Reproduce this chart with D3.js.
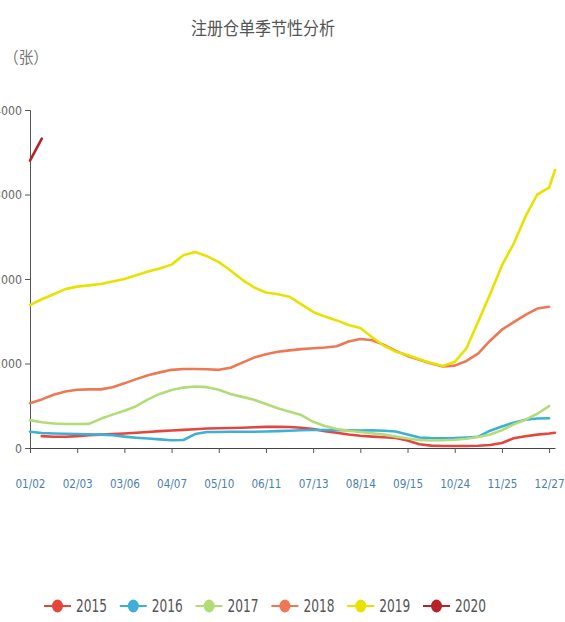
<!DOCTYPE html>
<html>
<head>
<meta charset="utf-8">
<script src="https://cdn.jsdelivr.net/npm/d3@7/dist/d3.min.js"></script>
<style>
  html, body { margin: 0; padding: 0; background: #ffffff; }
  svg { display: block; }
  .num { font-family: "Liberation Sans Narrow", "DejaVu Sans Condensed", "Liberation Sans", sans-serif; }
  .cjk { font-family: "Noto Sans CJK SC", "Noto Sans", sans-serif; }
</style>
</head>
<body>
<svg id="chart" width="565" height="622"></svg>
<script>
// Category labels shown under the x axis (one every ~22 trading days)
const tickLabels = ["01/02", "02/03", "03/06", "04/07", "05/10", "06/11",
                    "07/13", "08/14", "09/15", "10/24", "11/25", "12/27"];
// Sample positions along the axis, in label-interval units (quarter steps, last one just past 12/27)
const samplePos = [...d3.range(0, 11.001, 0.25), 11.125];
const years = ["2015", "2016", "2017", "2018", "2019", "2020"];
const yTicks = [0, 1000, 2000, 3000, 4000];

// Registered warehouse receipts (张) per year, sampled at samplePos
const s2015 = [null, 140, 134, 134, 140, 150, 158, 166, 172, 180, 190, 200,
               208, 215, 222, 230, 233, 236, 240, 245, 250, 252, 248, 240,
               225, 200, 180, 160, 145, 135, 128, 120, 90, 45, 28, 24,
               24, 24, 26, 35, 60, 115, 140, 158, 172, 181];
const s2016 = [193, 178, 172, 168, 165, 162, 158, 150, 135, 122, 112, 102,
               92, 95, 165, 190, 190, 192, 192, 193, 195, 200, 205, 210,
               213, 213, 212, 210, 206, 210, 205, 195, 160, 125, 118, 115,
               118, 125, 134, 205, 255, 300, 335, 350, 352, null];
const s2017 = [330, 305, 290, 284, 284, 285, 345, 395, 440, 495, 575, 640,
               686, 715, 728, 720, 690, 640, 605, 570, 520, 470, 430, 390,
               310, 260, 225, 205, 190, 175, 158, 135, 112, 95, 88, 92,
               98, 110, 130, 160, 210, 280, 335, 405, 495, null];
const s2018 = [530, 575, 630, 668, 690, 694, 694, 720, 765, 815, 860, 895,
               925, 935, 935, 932, 925, 950, 1010, 1070, 1110, 1140, 1155, 1170,
               1180, 1190, 1205, 1260, 1290, 1275, 1220, 1150, 1090, 1045, 1000, 965,
               975, 1030, 1120, 1270, 1400, 1490, 1575, 1650, 1672, null];
const s2019 = [1690, 1760, 1820, 1880, 1910, 1925, 1940, 1970, 2000, 2045, 2090, 2125,
               2170, 2280, 2320, 2270, 2200, 2100, 1990, 1900, 1840, 1820, 1790, 1700,
               1610, 1555, 1510, 1455, 1420, 1310, 1210, 1140, 1100, 1050, 1005, 970,
               1020, 1180, 1500, 1820, 2160, 2420, 2740, 3000, 3080, 3290];
const s2020 = [3400, 3660];

const seriesValues = [s2015, s2016, s2017, s2018, s2019, s2020];
const colors = ["#e2463e", "#3db0d8", "#b2dc78", "#ee7754", "#e8e200", "#b8232a"];

const svg = d3.select("#chart");
const x = d3.scaleLinear().domain([0, 11.125]).range([30, 555]);
const y = d3.scaleLinear().domain([0, 4000]).range([448, 110]);

// Title and unit
svg.append("text").attr("class", "cjk")
  .attr("x", 263).attr("y", 35).attr("text-anchor", "middle")
  .attr("font-size", 18).attr("fill", "#555")
  .attr("textLength", 144).attr("lengthAdjust", "spacingAndGlyphs")
  .text("注册仓单季节性分析");
svg.append("text").attr("class", "cjk")
  .attr("x", 4).attr("y", 63)
  .attr("font-size", 16).attr("fill", "#777")
  .attr("textLength", 44).attr("lengthAdjust", "spacingAndGlyphs")
  .text("（张）");

// Y axis
const yAxis = svg.append("g").attr("transform", "translate(30,0)")
  .call(d3.axisLeft(y).tickValues(yTicks).tickSize(5).tickPadding(3).tickFormat(d3.format("d")));
yAxis.select(".domain").attr("stroke", "#555");
yAxis.selectAll(".tick line").attr("stroke", "#555");
yAxis.selectAll(".tick text").attr("class", "num")
  .attr("font-size", 13).attr("fill", "#666")
  .each(function(d) {
    const n = String(d).length;
    d3.select(this).attr("textLength", n * 7).attr("lengthAdjust", "spacingAndGlyphs");
  });

// X axis
const xAxis = svg.append("g").attr("transform", "translate(0,448)")
  .call(d3.axisBottom(x).tickValues(d3.range(tickLabels.length))
    .tickFormat(i => tickLabels[i]).tickSize(5).tickPadding(26).tickSizeOuter(0));
xAxis.select(".domain").attr("stroke", "#444");
xAxis.selectAll(".tick line").attr("stroke", "#555");
xAxis.selectAll(".tick text").attr("class", "num")
  .attr("font-size", 13).attr("fill", "#4a7fae")
  .attr("textLength", 30).attr("lengthAdjust", "spacingAndGlyphs");

// Lines
const line = d3.line()
  .defined(d => d.v != null)
  .x(d => x(d.t))
  .y(d => y(d.v));

seriesValues.forEach((vals, i) => {
  const pts = vals.map((v, k) => ({ t: samplePos[k], v: v }));
  svg.append("path")
    .datum(pts)
    .attr("fill", "none")
    .attr("stroke", colors[i])
    .attr("stroke-width", 2.6)
    .attr("stroke-linejoin", "round")
    .attr("stroke-linecap", "round")
    .attr("d", line);
});

// Legend
const legend = svg.append("g").attr("transform", "translate(0,606)");
years.forEach((yr, i) => {
  const g = legend.append("g").attr("transform", `translate(${44 + i * 75.8},0)`);
  g.append("line").attr("x1", 0).attr("x2", 27).attr("y1", 0).attr("y2", 0)
    .attr("stroke", colors[i]).attr("stroke-width", 2);
  g.append("ellipse").attr("cx", 13.5).attr("cy", 0).attr("rx", 5.5).attr("ry", 6.5)
    .attr("fill", colors[i]);
  g.append("text").attr("class", "num")
    .attr("x", 32).attr("y", 6)
    .attr("font-size", 18).attr("fill", "#555")
    .attr("textLength", 31).attr("lengthAdjust", "spacingAndGlyphs")
    .text(yr);
});
</script>
</body>
</html>
